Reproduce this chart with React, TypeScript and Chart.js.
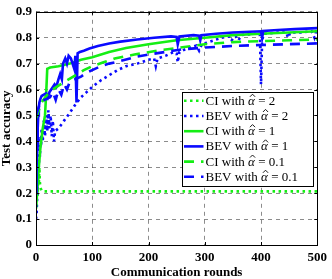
import React, { useEffect, useRef } from "react";
import { Chart, registerables } from "chart.js";

Chart.register(...registerables);

// ---- tick labels ----
const xTickValues = [0, 100, 200, 300, 400, 500];
const yTickValues = [0, 0.1, 0.2, 0.3, 0.4, 0.5, 0.6, 0.7, 0.8, 0.9];

// ---- legend / series naming ----
const methodNames = ["CI", "BEV", "CI", "BEV", "CI", "BEV"];
const alphaLabels = ["2", "2", "1", "1", "0.1", "0.1"];

// ---- CI with alpha = 2 (green dotted) ----
const ciA2Rounds = [0, 1, 2, 3, 4, 5, 6, 7, 8, 9, 10, 12, 500];
const ciA2Acc = [0.15, 0.17, 0.22, 0.19, 0.27, 0.23, 0.3, 0.24, 0.22, 0.215, 0.21, 0.207, 0.207];

// ---- BEV with alpha = 2 (blue dotted) ----
const bevA2Rounds = [
  0, 1, 2, 3, 4, 5, 6, 7, 8, 9, 10, 12, 14, 16, 18, 20, 22, 24, 26, 28, 30, 32, 34,
  40, 50, 60, 71, 80, 90, 100, 115, 130, 145, 160, 180, 200, 210, 213, 216, 230, 245,
  250, 252, 255, 270, 285, 290, 295, 310, 330, 345, 348, 352, 355, 360, 365, 385, 398,
  400, 402, 405, 430, 445, 448, 452, 470, 490, 495, 498, 500,
];
const bevA2Acc = [
  0.1, 0.12, 0.18, 0.25, 0.33, 0.3, 0.38, 0.34, 0.42, 0.38, 0.45, 0.4, 0.48, 0.42, 0.5,
  0.44, 0.52, 0.45, 0.5, 0.42, 0.48, 0.4, 0.44, 0.45, 0.48, 0.51, 0.545, 0.57, 0.59,
  0.61, 0.635, 0.655, 0.675, 0.69, 0.7, 0.715, 0.72, 0.69, 0.72, 0.73, 0.745, 0.74,
  0.705, 0.745, 0.76, 0.77, 0.75, 0.775, 0.785, 0.8, 0.805, 0.79, 0.805, 0.805, 0.79,
  0.81, 0.815, 0.815, 0.62, 0.79, 0.815, 0.82, 0.82, 0.8, 0.82, 0.82, 0.825, 0.8, 0.825,
  0.825,
];

// ---- CI with alpha = 1 (green solid) ----
const ciA1Rounds = [
  0, 2, 5, 8, 12, 16, 18, 20, 25, 40, 60, 80, 100, 130, 160, 200, 250, 300, 350, 400,
  450, 500,
];
const ciA1Acc = [
  0.14, 0.2, 0.3, 0.38, 0.45, 0.5, 0.58, 0.68, 0.685, 0.69, 0.7, 0.715, 0.725, 0.745,
  0.76, 0.775, 0.79, 0.8, 0.81, 0.815, 0.82, 0.825,
];

// ---- BEV with alpha = 1 (blue solid) ----
const bevA1Rounds = [
  0, 1, 2, 3, 4, 5, 6, 8, 10, 14, 18, 21, 24, 27, 30, 33, 36, 40, 43, 46, 48, 52, 55,
  58, 62, 65, 68, 70, 72, 74, 78, 85, 95, 110, 130, 150, 180, 210, 240, 250, 252, 255,
  280, 290, 292, 294, 320, 350, 380, 400, 402, 404, 430, 460, 500,
];
const bevA1Acc = [
  0.2, 0.3, 0.38, 0.45, 0.5, 0.53, 0.55, 0.565, 0.575, 0.58, 0.585, 0.57, 0.59, 0.6,
  0.61, 0.62, 0.61, 0.64, 0.66, 0.64, 0.7, 0.72, 0.7, 0.73, 0.72, 0.7, 0.68, 0.73, 0.55,
  0.74, 0.745, 0.75, 0.758, 0.768, 0.778, 0.785, 0.793, 0.8, 0.805, 0.803, 0.775, 0.805,
  0.81, 0.808, 0.79, 0.81, 0.815, 0.82, 0.823, 0.825, 0.8, 0.826, 0.83, 0.833, 0.837,
];

// ---- CI with alpha = 0.1 (green dashed) ----
const ciA01Rounds = [
  0, 5, 10, 20, 30, 40, 55, 70, 85, 100, 120, 140, 175, 215, 250, 300, 350, 400, 450,
  500,
];
const ciA01Acc = [
  0.49, 0.52, 0.55, 0.58, 0.6, 0.615, 0.635, 0.655, 0.675, 0.69, 0.705, 0.72, 0.735,
  0.75, 0.76, 0.775, 0.783, 0.787, 0.79, 0.793,
];

// ---- BEV with alpha = 0.1 (blue dashed) ----
const bevA01Rounds = [
  0, 3, 6, 10, 15, 20, 25, 30, 35, 40, 45, 50, 55, 60, 70, 80, 90, 100, 115, 130, 150,
  175, 200, 230, 260, 300, 350, 400, 450, 500,
];
const bevA01Acc = [
  0.5, 0.52, 0.54, 0.55, 0.56, 0.565, 0.57, 0.59, 0.56, 0.6, 0.58, 0.62, 0.6, 0.63,
  0.64, 0.65, 0.665, 0.675, 0.69, 0.7, 0.71, 0.725, 0.735, 0.745, 0.755, 0.762, 0.768,
  0.772, 0.775, 0.778,
];

const GREEN = "#14ee14";
const BLUE = "#0a0aff";
const FONT = "'Liberation Serif', 'Times New Roman', serif";

const seriesRounds = [ciA2Rounds, bevA2Rounds, ciA1Rounds, bevA1Rounds, ciA01Rounds, bevA01Rounds];
const seriesAcc = [ciA2Acc, bevA2Acc, ciA1Acc, bevA1Acc, ciA01Acc, bevA01Acc];
const seriesColors = [GREEN, BLUE, GREEN, BLUE, GREEN, BLUE];
const seriesDash: number[][] = [[2.5, 3.5], [2.5, 3.5], [], [], [10, 7], [10, 7]];

const framePlugin = {
  id: "frame",
  afterDatasetsDraw(chart: any) {
    const { ctx, chartArea: a, scales } = chart;
    ctx.save();
    ctx.strokeStyle = "#000";
    ctx.lineWidth = 1;
    ctx.setLineDash([]);
    const tl = 3;
    ctx.beginPath();
    for (const v of xTickValues) {
      const px = Math.round(scales.x.getPixelForValue(v)) + 0.5;
      ctx.moveTo(px, a.bottom);
      ctx.lineTo(px, a.bottom - tl);
      ctx.moveTo(px, a.top);
      ctx.lineTo(px, a.top + tl);
    }
    for (const v of yTickValues) {
      const py = Math.round(scales.y.getPixelForValue(v)) + 0.5;
      ctx.moveTo(a.left, py);
      ctx.lineTo(a.left + tl, py);
      ctx.moveTo(a.right, py);
      ctx.lineTo(a.right - tl, py);
    }
    ctx.stroke();
    ctx.strokeRect(Math.round(a.left) + 0.5, Math.round(a.top) + 0.5, Math.round(a.right - a.left), Math.round(a.bottom - a.top));

    // legend
    const lx = Math.round(a.right) - 135 + 0.5;
    const ly = Math.round(a.top) + 80 + 0.5;
    const lw = 131;
    const lh = 94;
    ctx.fillStyle = "#fff";
    ctx.fillRect(lx, ly, lw, lh);
    ctx.strokeStyle = "#000";
    ctx.strokeRect(lx, ly, lw, lh);
    ctx.textBaseline = "alphabetic";
    for (let i = 0; i < methodNames.length; i++) {
      const cy = ly + 8.3 + i * 15.2;
      const base = cy + 4;
      ctx.strokeStyle = seriesColors[i];
      ctx.lineWidth = 2.6;
      ctx.setLineDash(seriesDash[i]);
      ctx.lineCap = "butt";
      ctx.beginPath();
      ctx.moveTo(lx + 1.5, cy);
      ctx.lineTo(lx + 21, cy);
      ctx.stroke();
      ctx.setLineDash([]);
      ctx.fillStyle = "#000";
      let tx = lx + 23;
      ctx.font = `13px ${FONT}`;
      const p1 = `${methodNames[i]} with `;
      ctx.fillText(p1, tx, base);
      tx += ctx.measureText(p1).width;
      ctx.font = `italic 13px ${FONT}`;
      const p2 = "\u03B1";
      ctx.fillText(p2, tx, base);
      const aw = ctx.measureText(p2).width;
      // circumflex accent over alpha
      const hx = tx + aw / 2 + 1;
      ctx.strokeStyle = "#000";
      ctx.lineWidth = 0.9;
      ctx.beginPath();
      ctx.moveTo(hx - 2.6, base - 8);
      ctx.lineTo(hx, base - 10.6);
      ctx.lineTo(hx + 2.6, base - 8);
      ctx.stroke();
      tx += aw;
      ctx.font = `13px ${FONT}`;
      ctx.fillText(` = ${alphaLabels[i]}`, tx, base);
    }
    ctx.restore();
  },
};

export default function App() {
  const ref = useRef<HTMLCanvasElement | null>(null);
  useEffect(() => {
    if (!ref.current) return;
    const datasets = seriesRounds.map((rounds, i) => ({
      label: `${methodNames[i]} with α̂ = ${alphaLabels[i]}`,
      data: rounds.map((r, j) => ({ x: r, y: seriesAcc[i][j] })),
      borderColor: seriesColors[i],
      backgroundColor: seriesColors[i],
      borderWidth: 2.6,
      borderDash: seriesDash[i],
      pointRadius: 0,
      tension: 0,
      fill: false,
      order: seriesRounds.length - 1 - i,
    }));
    const chart = new Chart(ref.current, {
      type: "line",
      data: { datasets },
      plugins: [framePlugin],
      options: {
        animation: false,
        responsive: false,
        devicePixelRatio: 1,
        layout: { autoPadding: false, padding: { left: 0, right: 10, top: 5, bottom: 0 } },
        plugins: { legend: { display: false }, tooltip: { enabled: false } },
        scales: {
          x: {
            type: "linear",
            min: 0,
            max: 500,
            afterBuildTicks: (s: any) => {
              s.ticks = xTickValues.map((v) => ({ value: v }));
            },
            afterFit: (s: any) => {
              s.height = 34;
            },
            ticks: {
              color: "#000",
              padding: 5,
              font: { family: FONT, size: 13, weight: "bold" },
              maxRotation: 0,
              callback: (v: any) => String(v),
            },
            grid: { color: "rgba(0,0,0,0.45)", drawTicks: false, lineWidth: 1 },
            border: { display: false, dash: [4, 4] },
            title: {
              display: true,
              text: "Communication rounds",
              color: "#000",
              padding: 0,
              font: { family: FONT, size: 13, weight: "bold", lineHeight: 1 },
            },
          },
          y: {
            type: "linear",
            min: 0,
            max: 0.9,
            afterBuildTicks: (s: any) => {
              s.ticks = yTickValues.map((v) => ({ value: v }));
            },
            afterFit: (s: any) => {
              s.width = 36;
            },
            ticks: {
              color: "#000",
              padding: 4,
              font: { family: FONT, size: 13, weight: "bold" },
              callback: (v: any) => String(Number(Number(v).toFixed(1))),
            },
            grid: { color: "rgba(0,0,0,0.45)", drawTicks: false, lineWidth: 1 },
            border: { display: false, dash: [4, 4] },
            title: {
              display: true,
              text: "Test accuracy",
              color: "#000",
              padding: 0,
              font: { family: FONT, size: 13, weight: "bold", lineHeight: 1 },
            },
          },
        },
      },
    });
    return () => chart.destroy();
  }, []);
  return (
    <div style={{ position: "fixed", left: 0, top: 0, width: 332, height: 279, background: "#fff" }}>
      <canvas ref={ref} width={332} height={279} style={{ width: 332, height: 279, display: "block" }} />
    </div>
  );
}
